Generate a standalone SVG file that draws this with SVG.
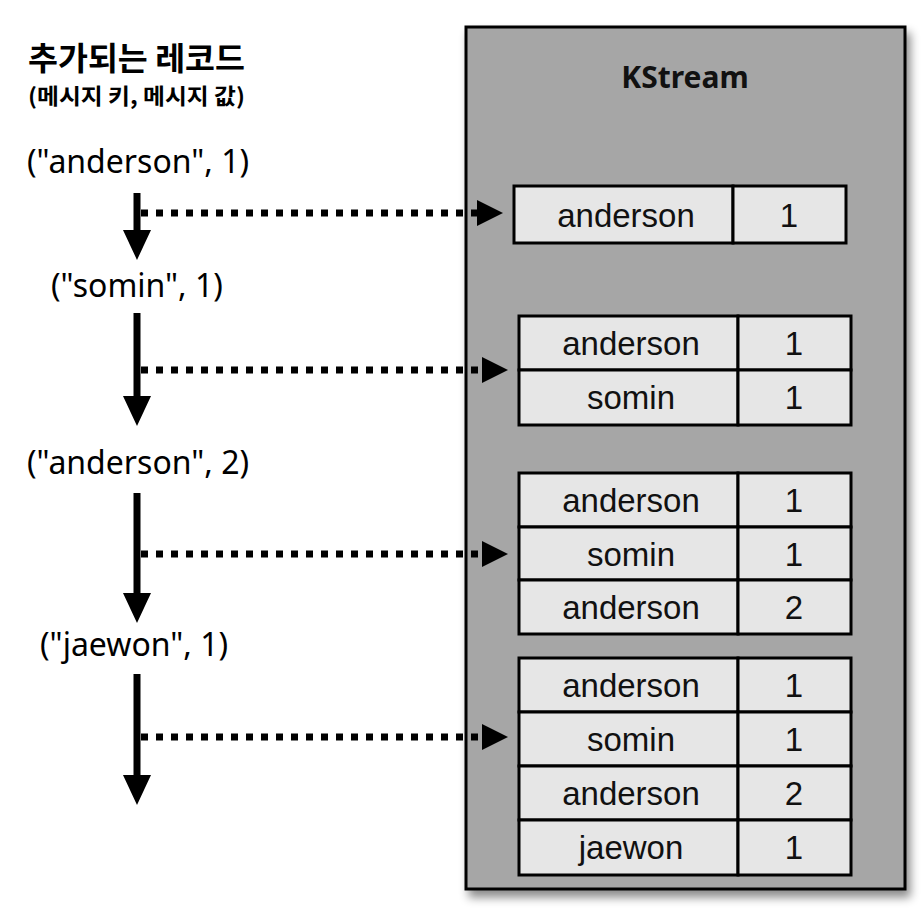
<svg xmlns="http://www.w3.org/2000/svg" width="924" height="922" viewBox="0 0 924 922">
<defs>
<filter id="shadow" x="-10%" y="-10%" width="130%" height="130%">
<feDropShadow dx="4" dy="7" stdDeviation="5" flood-color="#000" flood-opacity="0.45"/>
</filter>
<marker id="headDown" viewBox="0 0 30 28" refX="0" refY="14" markerWidth="30" markerHeight="28" markerUnits="userSpaceOnUse" orient="auto">
<path d="M0,0 L30,14 L0,28 z" fill="#000"/>
</marker>
<marker id="headRight" viewBox="0 0 26 26" refX="0" refY="13" markerWidth="26" markerHeight="26" markerUnits="userSpaceOnUse" orient="auto">
<path d="M0,0 L26,13 L0,26 z" fill="#000"/>
</marker>
</defs>
<style>
.title{font-family:"Noto Sans CJK KR","Noto Sans",sans-serif;font-weight:700;fill:#000}
.rec{font-family:"Noto Sans","Open Sans",sans-serif;font-size:32px;fill:#000}
.ks{font-family:"Noto Sans","Open Sans",sans-serif;font-weight:700;font-size:30px;fill:#111;text-anchor:middle}
.cell{fill:#e6e6e6;stroke:#000;stroke-width:3}
.ct{font-family:"Liberation Sans",Arial,sans-serif;font-size:33px;fill:#111;text-anchor:middle}
.flow{stroke:#000;stroke-width:7;fill:none;marker-end:url(#headDown)}
.dot{stroke:#000;stroke-width:7;fill:none;stroke-dasharray:7 8;marker-end:url(#headRight)}
</style>
<rect width="924" height="922" fill="#fff"/>

<g id="header">
<text class="title" x="28" y="70" font-size="32" textLength="217" lengthAdjust="spacingAndGlyphs">추가되는 레코드</text>
<text class="title" x="28" y="104" font-size="22" textLength="217" lengthAdjust="spacingAndGlyphs">(메시지 키, 메시지 값)</text>
</g>

<g id="records">
<text class="rec" x="27" y="173">("anderson", 1)</text>
<text class="rec" x="51" y="297">("somin", 1)</text>
<text class="rec" x="27" y="474">("anderson", 2)</text>
<text class="rec" x="40" y="656">("jaewon", 1)</text>
</g>

<g id="kstream">
<rect x="466" y="27" width="439" height="862" fill="#a6a6a6" stroke="#000" stroke-width="3" filter="url(#shadow)"/>
<text class="ks" x="685" y="88">KStream</text>
</g>

<g id="table1">
<rect class="cell" x="514" y="186" width="219" height="57"/>
<rect class="cell" x="733" y="186" width="113" height="57"/>
<text class="ct" x="626" y="227">anderson</text>
<text class="ct" x="789" y="227">1</text>
</g>

<g id="table2">
<rect class="cell" x="519" y="316" width="219" height="54"/>
<rect class="cell" x="738" y="316" width="113" height="54"/>
<rect class="cell" x="519" y="370" width="219" height="55"/>
<rect class="cell" x="738" y="370" width="113" height="55"/>
<text class="ct" x="631" y="355">anderson</text>
<text class="ct" x="794" y="355">1</text>
<text class="ct" x="631" y="409">somin</text>
<text class="ct" x="794" y="409">1</text>
</g>

<g id="table3">
<rect class="cell" x="519" y="473" width="219" height="54"/>
<rect class="cell" x="738" y="473" width="113" height="54"/>
<rect class="cell" x="519" y="527" width="219" height="53"/>
<rect class="cell" x="738" y="527" width="113" height="53"/>
<rect class="cell" x="519" y="580" width="219" height="54"/>
<rect class="cell" x="738" y="580" width="113" height="54"/>
<text class="ct" x="631" y="512">anderson</text>
<text class="ct" x="794" y="512">1</text>
<text class="ct" x="631" y="566">somin</text>
<text class="ct" x="794" y="566">1</text>
<text class="ct" x="631" y="619">anderson</text>
<text class="ct" x="794" y="619">2</text>
</g>

<g id="table4">
<rect class="cell" x="519" y="658" width="219" height="54"/>
<rect class="cell" x="738" y="658" width="113" height="54"/>
<rect class="cell" x="519" y="712" width="219" height="54"/>
<rect class="cell" x="738" y="712" width="113" height="54"/>
<rect class="cell" x="519" y="766" width="219" height="54"/>
<rect class="cell" x="738" y="766" width="113" height="54"/>
<rect class="cell" x="519" y="820" width="219" height="55"/>
<rect class="cell" x="738" y="820" width="113" height="55"/>
<text class="ct" x="631" y="697">anderson</text>
<text class="ct" x="794" y="697">1</text>
<text class="ct" x="631" y="751">somin</text>
<text class="ct" x="794" y="751">1</text>
<text class="ct" x="631" y="805">anderson</text>
<text class="ct" x="794" y="805">2</text>
<text class="ct" x="631" y="859">jaewon</text>
<text class="ct" x="794" y="859">1</text>
</g>

<g id="connectors">
<line class="flow" x1="137" y1="193" x2="137" y2="230"/>
<line class="flow" x1="137" y1="313" x2="137" y2="396"/>
<line class="flow" x1="137" y1="493" x2="137" y2="593"/>
<line class="flow" x1="137" y1="674" x2="137" y2="775"/>
<line class="dot" x1="141" y1="213" x2="477" y2="213"/>
<line class="dot" x1="141" y1="370" x2="482" y2="370"/>
<line class="dot" x1="141" y1="554" x2="482" y2="554"/>
<line class="dot" x1="141" y1="737" x2="482" y2="737"/>
</g>
</svg>
